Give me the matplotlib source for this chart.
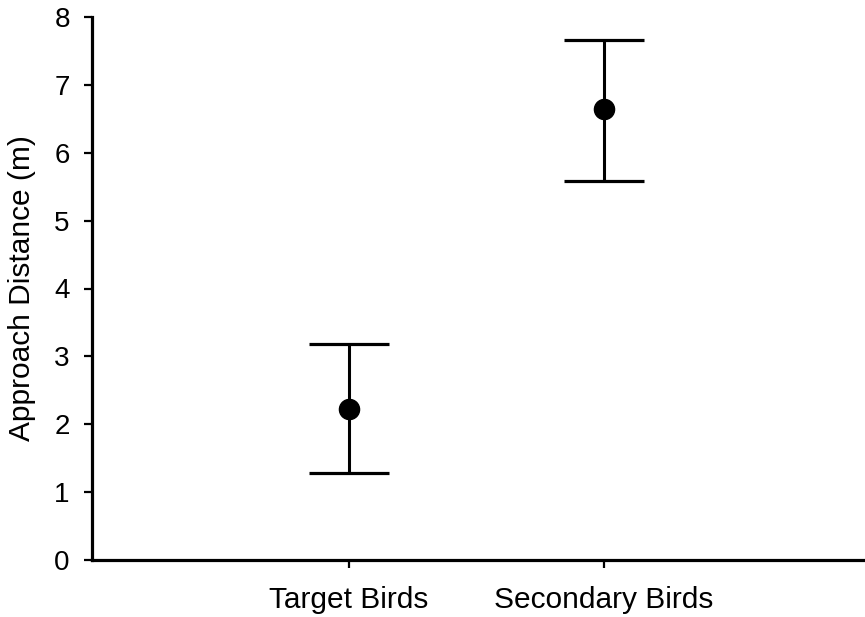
import matplotlib
matplotlib.use("Agg")
import matplotlib.pyplot as plt
import numpy as np

categories = ["Target Birds", "Secondary Birds"]
means = [2.23, 6.64]
err_lower = [0.95, 1.06]
err_upper = [0.95, 1.02]
yticks = [0, 1, 2, 3, 4, 5, 6, 7, 8]

plt.rcParams['font.family'] = ['Liberation Sans', 'DejaVu Sans']

fig = plt.figure(figsize=(8.65, 6.17), dpi=100)
ax = fig.add_axes([92 / 865, 57 / 617, 773 / 865, 543 / 617])

x = np.arange(1, len(categories) + 1)
ax.errorbar(x, means, yerr=[err_lower, err_upper], fmt='o', color='black',
            ecolor='black', elinewidth=2.2, capsize=28.5, capthick=2.3,
            markersize=14.5, zorder=3)

ax.set_xlim(-0.008, 3.024)
ax.set_ylim(0, 8)
ax.set_yticks(yticks)
ax.set_yticklabels([str(t) for t in yticks])
ax.set_xticks(x)
ax.set_xticklabels(categories)
ax.set_ylabel("Approach Distance (m)", fontsize=21.5)
ax.yaxis.set_label_coords(-0.072, 0.5)

for s in ['top', 'right']:
    ax.spines[s].set_visible(False)
for s in ['left', 'bottom']:
    ax.spines[s].set_linewidth(2.3)

ax.tick_params(axis='both', which='major', labelsize=20, width=1.6,
               length=6, direction='out', colors='black')
ax.tick_params(axis='x', labelsize=21.5, pad=13)
ax.tick_params(axis='y', pad=10)

fig.savefig("out.png", dpi=100)
